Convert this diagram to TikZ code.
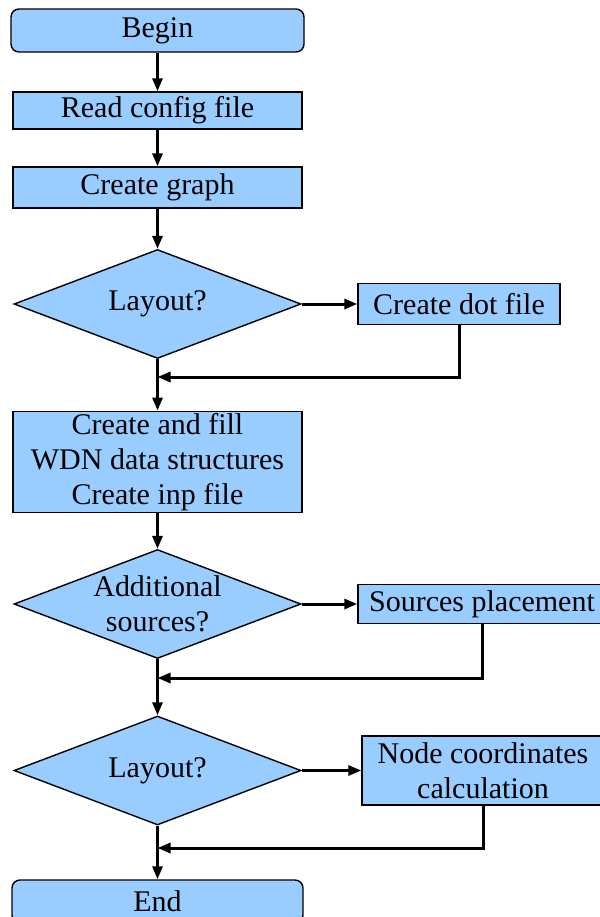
\documentclass[tikz,border=0pt]{standalone}
\usepackage{fontspec}
\setmainfont{Liberation Serif}
\usetikzlibrary{shapes.geometric,arrows.meta}

\begin{document}
\begin{tikzpicture}[x=0.5pt,y=-0.5pt,
  font=\fontsize{15}{17.5}\selectfont,
  box/.style={draw, rectangle, fill=boxblue, line width=0.7pt, inner sep=1pt, align=center},
  term/.style={box, rounded corners=4pt},
  decision/.style={draw, diamond, fill=boxblue, line width=0.7pt, inner sep=0pt, aspect=2.63,
    minimum width=143.5pt, minimum height=54.5pt, align=center},
  arr/.style={line width=1.5pt, -{Triangle[length=6.5pt,width=5pt]}}]
 \definecolor{boxblue}{HTML}{99CCFF}
 \useasboundingbox (0,0) rectangle (600,917);
 % Hauptspalte
 \node[term, minimum width=146.5pt, minimum height=21.5pt] (begin) at (157.5,30.5) {Begin};
 \node[box, minimum width=144.5pt, minimum height=18.5pt] (read) at (157.5,110.5) {Read config file};
 \node[box, minimum width=144.5pt, minimum height=20.5pt] (graph) at (157.5,187.5) {Create graph};
 \node[decision] (lay1) at (157.5,304) {Layout?};
 \node[box, minimum width=144.5pt, minimum height=50pt] (fill) at (157.5,462) {Create and fill\\WDN data structures\\Create inp file};
 \node[decision] (src) at (157.5,604) {Additional\\sources?};
 \node[decision] (lay2) at (157.5,770.5) {Layout?};
 \node[term, minimum width=145.5pt, minimum height=21.5pt] (end) at (157.5,901.5) {End};
 % Seitenzweige
 \node[box, minimum width=101pt, minimum height=20.5pt] (dot) at (459,304) {Create dot file};
 \node[box, minimum width=124pt, minimum height=19.5pt] (place) at (482,604) {Sources placement};
 \node[box, minimum width=121pt, minimum height=34.5pt] (coord) at (483,770.5) {Node coordinates\\calculation};
 \coordinate (m1) at (157.5,377);
 \coordinate (m2) at (157.5,678);
 \coordinate (m3) at (157.5,848);

 \draw[arr] (begin) -- (read);
 \draw[arr] (read) -- (graph);
 \draw[arr] (graph) -- (lay1);
 \draw[arr] (lay1) -- (fill);
 \draw[arr] (fill) -- (src);
 \draw[arr] (src) -- (lay2);
 \draw[arr] (lay2) -- (end);
 \draw[arr] (lay1) -- (dot);
 \draw[arr] (src) -- (place);
 \draw[arr] (lay2) -- (coord);
 \draw[arr] (dot.south) |- (m1);
 \draw[arr] (place.south) |- (m2);
 \draw[arr] (coord.south) |- (m3);
\end{tikzpicture}
\end{document}
